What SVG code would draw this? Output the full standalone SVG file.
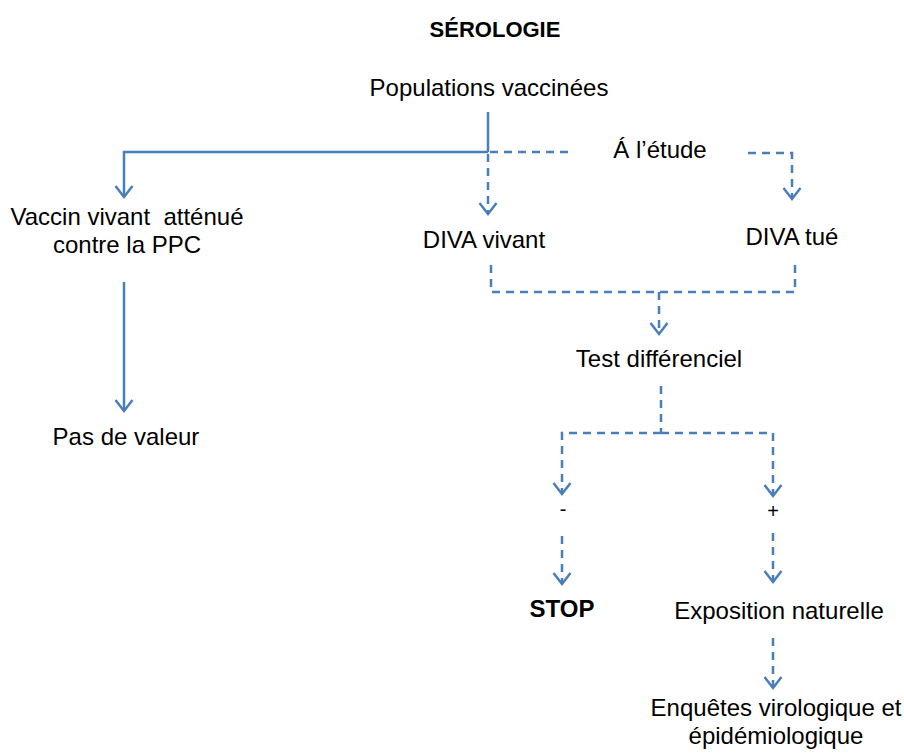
<svg xmlns="http://www.w3.org/2000/svg" width="904" height="753" viewBox="0 0 904 753">
<defs>
<marker id="arr" markerUnits="userSpaceOnUse" markerWidth="26" markerHeight="26" viewBox="-13 -13 26 26" refX="0" refY="0" orient="auto">
<path d="M-11,-8.5 L0,0 L-11,8.5" fill="none" stroke="#4A7EBB" stroke-width="2.5" stroke-dasharray="none"/>
</marker>
</defs>
<style>
text{font-family:"Liberation Sans",Arial,sans-serif;font-size:24px;fill:#000;text-anchor:middle;white-space:pre}
.b{font-weight:bold}
.t{font-size:22px}
.sm{font-size:20px}
.s{fill:none;stroke:#4A7EBB;stroke-width:2.5}
.d{fill:none;stroke:#4A7EBB;stroke-width:2.5;stroke-dasharray:8 6}
.a{marker-end:url(#arr)}
</style>
<g id="title"><text class="b t" x="495" y="37">SÉROLOGIE</text></g>
<g id="pop"><text x="489" y="96">Populations vaccinées</text></g>
<g id="etude"><text x="660" y="158">Á l’étude</text></g>
<g id="vaccin"><text x="127" y="225" xml:space="preserve">Vaccin vivant  atténué</text><text x="127" y="253">contre la PPC</text></g>
<g id="divavivant"><text x="484" y="248">DIVA vivant</text></g>
<g id="divatue"><text x="792" y="245">DIVA tué</text></g>
<g id="pasvaleur"><text x="126" y="445">Pas de valeur</text></g>
<g id="test"><text x="659" y="367">Test différenciel</text></g>
<g id="moins"><text class="sm" x="563" y="516">-</text></g>
<g id="plus"><text class="sm" x="773" y="518">+</text></g>
<g id="stop"><text class="b" x="562" y="617">STOP</text></g>
<g id="expo"><text x="779" y="619">Exposition naturelle</text></g>
<g id="enquetes"><text x="776" y="716">Enquêtes virologique et</text><text x="776" y="744">épidémiologique</text></g>
<g id="connectors">
<path class="s" d="M488,112 V152"/>
<path class="s a" d="M488,152 H124 V197"/>
<path class="s a" d="M124,282 V411"/>
<path class="d" d="M490,152 H568"/>
<path class="d a" d="M488,154 V214"/>
<path class="d a" d="M748,153 H792 V199"/>
<path class="d" d="M491,265 V292 H795 V265"/>
<path class="d a" d="M659,292 V334"/>
<path class="d" d="M661,386 V433"/>
<path class="d a" d="M661,433 H562 V494"/>
<path class="d a" d="M661,433 H773 V496"/>
<path class="d a" d="M562,536 V584"/>
<path class="d a" d="M773,533 V582"/>
<path class="d a" d="M773,638 V688"/>
</g>
</svg>
